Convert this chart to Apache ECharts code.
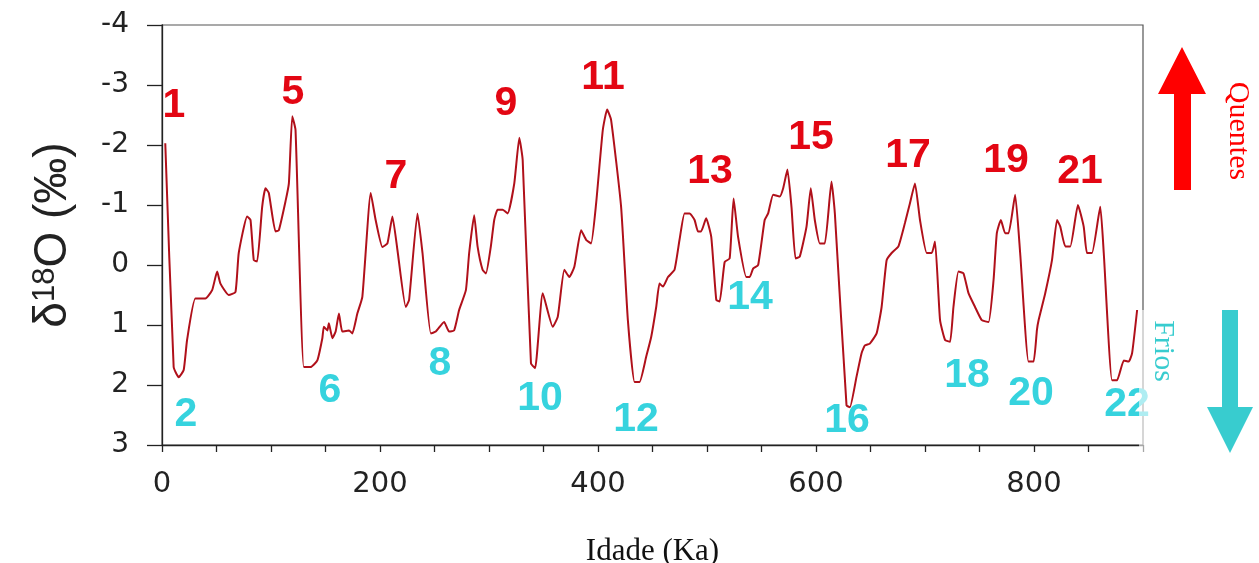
<!DOCTYPE html>
<html>
<head>
<meta charset="utf-8">
<script src="https://cdn.jsdelivr.net/npm/echarts@6/dist/echarts.min.js"></script>
<style>
html,body{margin:0;padding:0;background:#fff;}
#chart{width:1259px;height:563px;}
</style>
</head>
<body>
<div id="chart"></div>
<script>
// Age (Ka) of each traced point of the curve
const ages = [3.0,10.7,15.3,19.9,23.0,30.6,39.8,46.0,50.6,53.6,61.2,67.4,70.4,78.1,81.2,84.2,87.3,91.9,94.9,98.0,
  104.1,107.2,113.3,116.4,119.5,122.5,130.1,136.3,142.5,147.1,148.5,151.7,153.1,156.3,159.3,162.3,165.4,171.5,174.6,179.2,
  183.8,191.5,196.0,202.2,206.8,211.4,216.0,223.6,226.7,234.4,239.0,246.6,251.2,258.8,263.4,268.0,272.6,278.8,281.8,286.4,
  289.5,294.1,297.2,301.7,304.8,307.9,312.5,317.1,323.2,327.8,330.9,338.5,342.3,349.3,358.5,363.1,369.1,373.7,378.3,384.5,
  389.1,393.6,398.3,404.4,408.4,412.0,421.2,427.4,433.5,438.1,444.2,448.8,453.4,456.4,459.6,464.2,470.2,474.8,479.4,484.0,
  488.6,491.7,494.6,499.2,503.9,508.5,511.6,516.2,520.8,524.4,528.5,536.1,539.2,542.3,546.9,552.9,556.1,560.7,566.7,569.9,
  573.8,577.5,581.2,585.1,591.3,595.2,598.9,603.5,608.1,614.2,617.3,628.0,631.1,637.2,641.8,644.9,649.4,655.6,660.2,664.8,
  669.4,675.6,681.6,686.2,690.8,695.4,701.6,706.2,709.2,713.8,718.4,723.0,726.1,730.7,735.3,739.9,745.9,752.1,758.3,762.9,
  765.9,769.6,773.5,776.7,782.7,787.3,795.0,799.6,802.7,804.2,810.3,816.5,821.1,824.1,828.7,833.3,840.3,845.6,848.6,853.2,
  860.8,864.0,871.6,876.2,882.4,886.9,890.0,894.6];
// delta 18O (per mil) at each age
const d18O = [-2.03,1.70,1.87,1.75,1.25,0.56,0.56,0.42,0.11,0.31,0.50,0.45,-0.20,-0.81,-0.75,-0.08,-0.06,-0.97,-1.28,-1.20,
  -0.56,-0.58,-1.06,-1.36,-2.48,-2.25,1.70,1.70,1.59,1.22,1.03,1.09,0.97,1.22,1.11,0.81,1.11,1.09,1.14,0.81,
  0.53,-1.20,-0.75,-0.30,-0.36,-0.81,-0.25,0.70,0.58,-0.86,-0.20,1.14,1.11,0.95,1.11,1.09,0.75,0.42,-0.20,-0.83,
  -0.31,0.08,0.14,-0.31,-0.75,-0.92,-0.92,-0.86,-1.36,-2.12,-1.75,1.64,1.72,0.47,1.03,0.86,0.08,0.20,0.03,-0.58,
  -0.42,-0.36,-1.03,-2.25,-2.59,-2.42,-0.97,0.92,1.95,1.95,1.53,1.20,0.70,0.31,0.36,0.20,0.08,-0.42,-0.86,-0.86,
  -0.75,-0.56,-0.56,-0.78,-0.47,0.58,0.61,-0.05,-0.11,-1.11,-0.47,0.20,0.20,0.06,0.00,-0.75,-0.86,-1.17,-1.14,-1.28,
  -1.59,-0.97,-0.11,-0.14,-0.64,-1.28,-0.75,-0.36,-0.36,-1.39,-0.86,2.34,2.37,1.86,1.47,1.34,1.31,1.14,0.70,-0.08,
  -0.20,-0.31,-0.70,-1.03,-1.36,-0.75,-0.20,-0.20,-0.39,0.92,1.25,1.28,0.70,0.11,0.14,0.47,0.70,0.92,0.95,0.25,
  -0.53,-0.75,-0.53,-0.53,-1.17,-0.20,1.61,1.61,1.08,0.92,0.47,-0.08,-0.75,-0.64,-0.31,-0.31,-1.00,-0.64,-0.20,-0.20,
  -0.97,-0.20,1.92,1.92,1.59,1.61,1.47,0.75];

// Warm (odd) isotope stages: label and where it sits
const warmStages = ['1','5','7','9','11','13','15','17','19','21'];
const warmAge    = [11.0,120.2,214.7,315.6,404.6,502.8,595.4,684.4,774.3,842.2];
const warmVal    = [-2.65,-2.87,-1.47,-2.69,-3.12,-1.55,-2.12,-1.82,-1.74,-1.55];
// Cold (even) isotope stages
const coldStages = ['2','6','8','10','12','14','16','18','20','22'];
const coldAge    = [22.0,154.1,255.0,346.8,434.9,539.4,628.4,738.5,797.2,885.3];
const coldVal    = [2.49,2.10,1.65,2.22,2.57,0.55,2.60,1.84,2.14,2.32];

const xLabelStep = 200;
const xTickStep = 50;
const yTickStep = 1;

const chart = echarts.init(document.getElementById('chart'));
const RED = '#e30613';
const CYAN = '#36d3de';

chart.setOption({
  animation: false,
  backgroundColor: '#ffffff',
  grid: {left: 162, right: 116, top: 25, bottom: 118, containLabel: false, outerBoundsMode: 'none',
    show: true, borderColor: '#555', borderWidth: 1.2, backgroundColor: 'transparent'},
  xAxis: {
    type: 'value', min: 0, max: 900, interval: xTickStep,
    name: 'Idade (Ka)', nameLocation: 'middle', nameGap: 91,
    nameTextStyle: {fontFamily: 'Liberation Serif', fontSize: 31, color: '#111'},
    axisLine: {onZero: false, lineStyle: {color: '#222', width: 1.3}},
    axisTick: {inside: false, length: 7, lineStyle: {color: '#222', width: 1.3}},
    axisLabel: {fontFamily: 'DejaVu Sans', fontSize: 29, color: '#222', margin: 25,
      formatter: v => (v % xLabelStep === 0 ? String(v) : '')},
    splitLine: {show: false}
  },
  yAxis: {
    type: 'value', min: -4, max: 3, interval: yTickStep, inverse: true,
    name: '{a|δ}{b|18}{a|O (‰)}', nameLocation: 'middle', nameRotate: 90, nameGap: 86,
    nameTextStyle: {
      color: '#222',
      rich: {
        a: {fontFamily: 'Liberation Sans', fontSize: 46, color: '#222'},
        b: {fontFamily: 'Liberation Sans', fontSize: 31, color: '#222', verticalAlign: 'top'}
      }
    },
    axisLine: {onZero: false, lineStyle: {color: '#222', width: 1.3}},
    axisTick: {inside: false, length: 15, lineStyle: {color: '#222', width: 1.3}},
    axisLabel: {fontFamily: 'DejaVu Sans', fontSize: 28, color: '#222', margin: 33},
    splitLine: {show: false}
  },
  series: [
    {
      type: 'line', data: ages.map((a, i) => [a, d18O[i]]),
      showSymbol: false, smooth: 0.15,
      lineStyle: {color: '#b0101a', width: 2}, z: 3
    },
    {
      type: 'scatter', symbolSize: 1, itemStyle: {color: 'rgba(0,0,0,0)'},
      data: warmStages.map((s, i) => ({name: s, value: [warmAge[i], warmVal[i]]})),
      label: {show: true, position: 'inside', formatter: '{b}', fontFamily: 'Liberation Sans', fontWeight: 'bold',
        fontSize: 41, color: RED, textBorderWidth: 0, opacity: 1},
      z: 4, silent: true
    },
    {
      type: 'scatter', symbolSize: 1, itemStyle: {color: 'rgba(0,0,0,0)'},
      data: coldStages.map((s, i) => ({name: s, value: [coldAge[i], coldVal[i]]})),
      label: {show: true, position: 'inside', formatter: '{b}', fontFamily: 'Liberation Sans', fontWeight: 'bold',
        fontSize: 41, color: CYAN, textBorderWidth: 0, opacity: 1},
      z: 4, silent: true
    }
  ],
  graphic: [
    {type: 'rect', shape: {x: 1139, y: 310, width: 12, height: 142}, style: {fill: 'rgba(255,255,255,0.6)'}, z: 100},
    {type: 'polygon', shape: {points: [[1182,47],[1206,94],[1191,94],[1191,190],[1174,190],[1174,94],[1158,94]]}, style: {fill: '#ff0000'}, z: 100},
    {type: 'polygon', shape: {points: [[1222,310],[1238,310],[1238,407],[1253,407],[1230,453],[1207,407],[1222,407]]}, style: {fill: '#38cccf'}, z: 100},
    {type: 'text', x: 1238, y: 131, rotation: -Math.PI / 2,
      style: {text: 'Quentes', fill: '#ff0000', font: '30px "Liberation Serif"', align: 'center', verticalAlign: 'middle'}, z: 100},
    {type: 'text', x: 1163, y: 351, rotation: -Math.PI / 2,
      style: {text: 'Frios', fill: '#38cccf', font: '30px "Liberation Serif"', align: 'center', verticalAlign: 'middle'}, z: 100}
  ]
});
</script>
</body>
</html>
